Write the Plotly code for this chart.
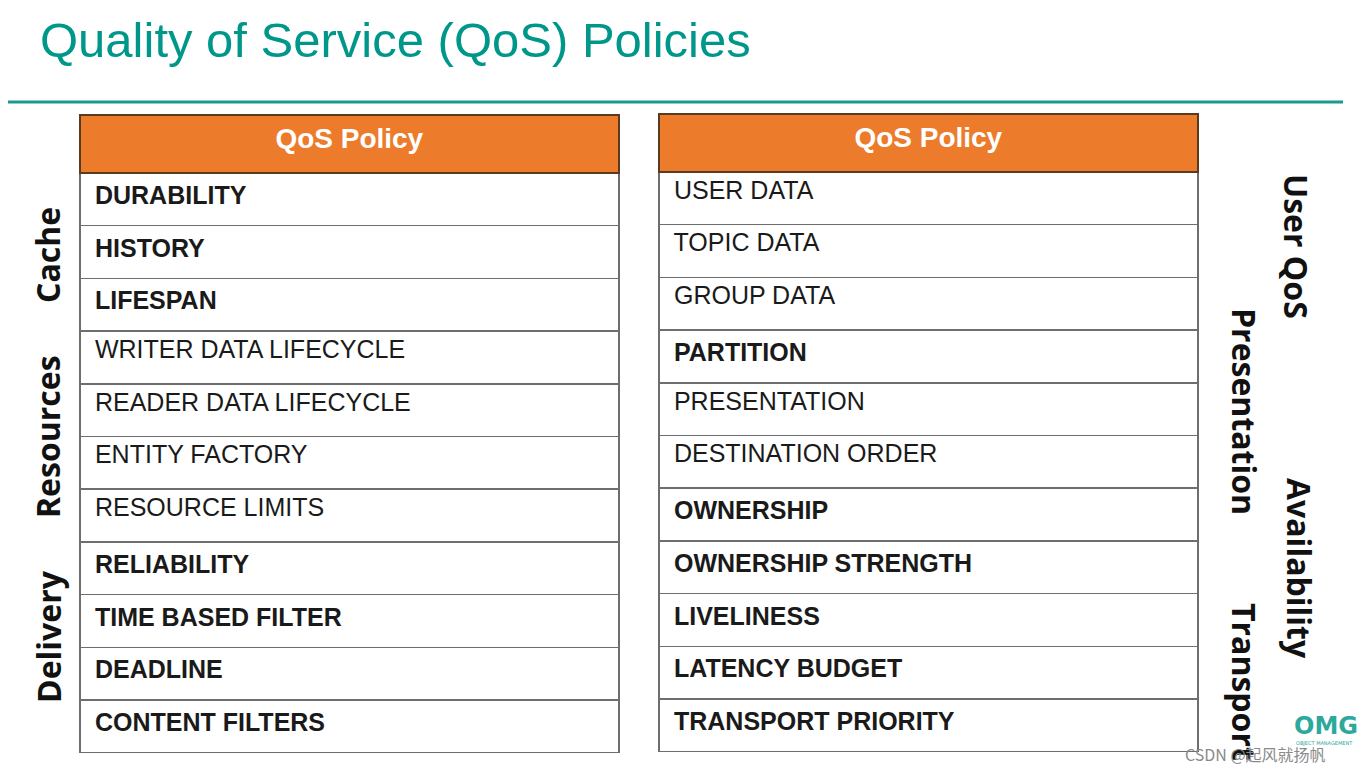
import plotly.graph_objects as go

# the page body has an 8px margin, so the figure is drawn 8px in from the corner
OFF = 8
W, H = 1370 - OFF, 767 - OFF

TITLE = "Quality of Service (QoS) Policies"
HEADER = "QoS Policy"

left_policies = ["DURABILITY", "HISTORY", "LIFESPAN",
                 "WRITER DATA LIFECYCLE", "READER DATA LIFECYCLE",
                 "ENTITY FACTORY", "RESOURCE LIMITS",
                 "RELIABILITY", "TIME BASED FILTER", "DEADLINE",
                 "CONTENT FILTERS"]
left_bold = [True, True, True, False, False, False, False,
             True, True, True, True]

right_policies = ["USER DATA", "TOPIC DATA", "GROUP DATA", "PARTITION",
                  "PRESENTATION", "DESTINATION ORDER", "OWNERSHIP",
                  "OWNERSHIP STRENGTH", "LIVELINESS", "LATENCY BUDGET",
                  "TRANSPORT PRIORITY"]
right_bold = [False, False, False, True, False, False, True,
              True, True, True, True]

left_groups = ["Cache", "Resources", "Delivery"]
left_group_y = [255, 437, 637]

right_groups = ["User QoS", "Presentation", "Availability", "Transport"]
right_group_x = [1297, 1245, 1300, 1245]
right_group_y = [246, 411, 568, 682]

TEAL = "#00978B"
ORANGE = "#EC7C2C"
GRID = "#6E6E6E"


def px_x(v):
    return (v - OFF) / W


def px_y(v):
    return 1 - (v - OFF) / H


def fmt(names, bold):
    return [" <b>" + n + "</b>" if b else " " + n for n, b in zip(names, bold)]


def make_table(names, bold, x0, x1, y0, y1):
    return go.Table(
        domain=dict(x=[px_x(x0), px_x(x1)], y=[px_y(y1 + 6), px_y(y0)]),
        columnwidth=[1],
        header=dict(
            values=["<b>" + HEADER + "</b>"],
            fill_color=ORANGE,
            line=dict(color="#5a3a20", width=1.5),
            align="center",
            height=58,
            font=dict(family="Liberation Sans, Arial", size=28, color="white"),
        ),
        cells=dict(
            values=[fmt(names, bold)],
            fill_color="white",
            line=dict(color=GRID, width=1.5),
            align="left",
            height=52.7,
            font=dict(family="Liberation Sans, Arial", size=25, color="#1a1a1a"),
        ),
    )


fig = go.Figure()
fig.add_trace(make_table(left_policies, left_bold, 80, 619, 115, 753))
fig.add_trace(make_table(right_policies, right_bold, 659, 1198, 114, 752))

fig.add_annotation(
    text=TITLE, xref="paper", yref="paper", x=px_x(38), y=px_y(40),
    xanchor="left", yanchor="middle", showarrow=False,
    font=dict(family="Liberation Sans, Arial", size=49, color=TEAL),
)

fig.add_shape(type="line", xref="paper", yref="paper",
              x0=0, x1=px_x(1343), y0=px_y(102), y1=px_y(102),
              line=dict(color="#1A9A8F", width=3))

for name, yy in zip(left_groups, left_group_y):
    fig.add_annotation(
        text="<b>" + name + "</b>", xref="paper", yref="paper",
        x=px_x(48), y=px_y(yy), xanchor="center", yanchor="middle",
        textangle=-90, showarrow=False,
        font=dict(family="Open Sans", size=32, color="#111"),
    )

for name, xx, yy in zip(right_groups, right_group_x, right_group_y):
    fig.add_annotation(
        text="<b>" + name + "</b>", xref="paper", yref="paper",
        x=px_x(xx), y=px_y(yy), xanchor="center", yanchor="middle",
        textangle=90, showarrow=False,
        font=dict(family="Open Sans", size=32, color="#111"),
    )

# OMG logo and watermark in the corner
fig.add_annotation(
    text="<b>OMG</b>", xref="paper", yref="paper", x=px_x(1292), y=px_y(726),
    xanchor="left", yanchor="middle", showarrow=False,
    font=dict(family="DejaVu Sans", size=24, color="#2CA89C"),
)
fig.add_annotation(
    text="OBJECT MANAGEMENT", xref="paper", yref="paper", x=px_x(1294),
    y=px_y(743), xanchor="left", yanchor="middle", showarrow=False,
    font=dict(family="DejaVu Sans", size=5, color="#2CA89C"),
)
fig.add_annotation(
    text="CSDN @起风就扬帆", xref="paper", yref="paper", x=px_x(1183),
    y=px_y(754), xanchor="left", yanchor="middle", showarrow=False,
    font=dict(family="Noto Sans CJK SC", size=16, color="#8a8a8a"),
)

fig.update_layout(
    width=W, height=H,
    margin=dict(l=0, r=0, t=0, b=0),
    paper_bgcolor="white",
    showlegend=False,
)

fig.write_html("out.html")
